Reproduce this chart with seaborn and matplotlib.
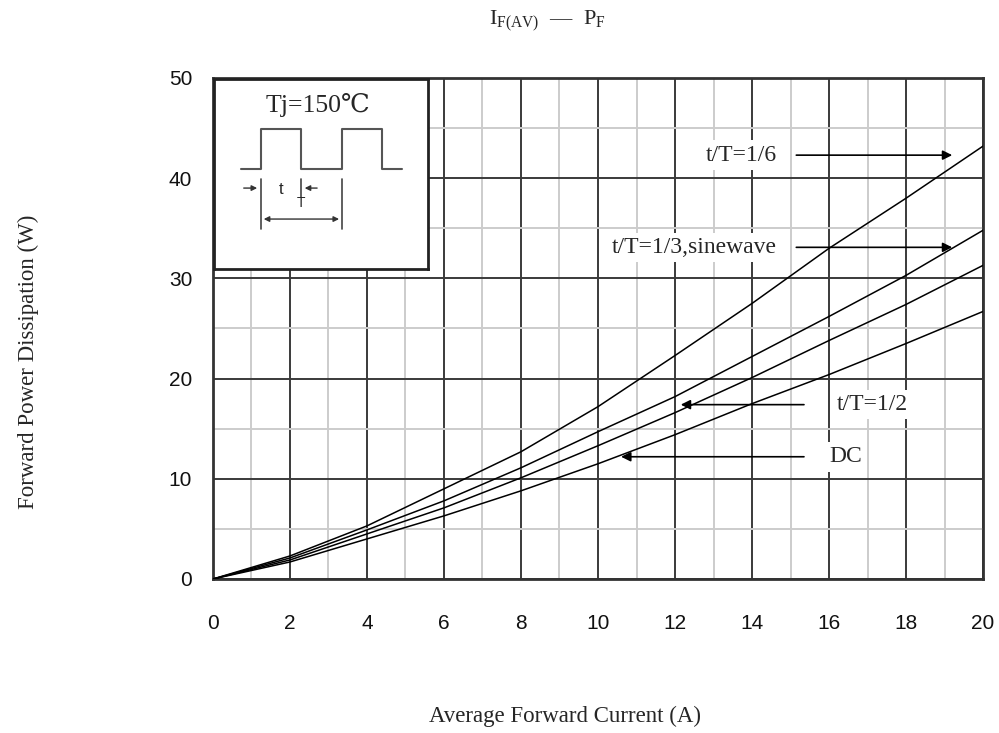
"""
Curva IF(AV) - PF (disipación de potencia directa)
"""

import matplotlib
matplotlib.use("Agg")
import matplotlib.pyplot as plt
import pandas as pd
import seaborn as sns

# Datos
corriente = [0, 2, 4, 6, 8, 10, 12, 14, 16, 18, 20]
p_sexto = [0, 2.3, 5.3, 9.0, 12.7, 17.2, 22.3, 27.5, 33.0, 38.0, 43.2]
p_tercio = [0, 2.1, 4.9, 7.8, 11.1, 14.7, 18.2, 22.2, 26.2, 30.3, 34.8]
p_medio = [0, 1.9, 4.5, 7.1, 10.1, 13.3, 16.6, 20.1, 23.8, 27.4, 31.3]
p_dc = [0, 1.7, 4.0, 6.3, 8.8, 11.5, 14.4, 17.5, 20.4, 23.5, 26.7]

series = ["t/T=1/6", "t/T=1/3,sinewave", "t/T=1/2", "DC"]

# etiquetas con flecha: (texto, x_texto, y, x_inicio, x_fin)
etiquetas = [
    ("t/T=1/6", 14.65, 42.3, 15.15, 19.2),
    ("t/T=1/3,sinewave", 14.65, 33.1, 15.15, 19.2),
    ("t/T=1/2", 16.2, 17.4, 15.35, 12.15),
    ("DC", 16.0, 12.2, 15.35, 10.6),
]

SERIF = ["Liberation Serif", "DejaVu Serif", "DejaVu Sans"]

sns.set_style("white")
plt.rcParams["mathtext.fontset"] = "custom"
plt.rcParams["mathtext.rm"] = "Liberation Serif"

df = pd.DataFrame({
    "I": corriente * 4,
    "P": p_sexto + p_tercio + p_medio + p_dc,
    "serie": [s for s in series for _ in corriente],
})

fig = plt.figure(figsize=(9.99, 7.33), dpi=100)
ax = fig.add_axes([0.2132, 0.2101, 0.7708, 0.6835])

sns.lineplot(data=df, x="I", y="P", hue="serie", palette=["black"] * 4,
             legend=False, ax=ax, linewidth=1.1, zorder=3)

ax.set_xlim(0, 20)
ax.set_ylim(0, 50)
ax.set_xticks(range(0, 21, 2))
ax.set_yticks(range(0, 51, 10))
ax.set_xticks(range(1, 20, 2), minor=True)
ax.set_yticks(range(5, 50, 10), minor=True)
ax.grid(which="major", color="#3a3a3a", linewidth=1.4, zorder=1)
ax.grid(which="minor", color="#cccccc", linewidth=1.4, zorder=0)
ax.set_axisbelow(True)
for sp in ax.spines.values():
    sp.set_color("#333333")
    sp.set_linewidth(2)
ax.tick_params(which="both", length=0)
ax.tick_params(axis="x", pad=25, labelsize=15)
ax.tick_params(axis="y", pad=15, labelsize=15)
for lab in ax.get_xticklabels() + ax.get_yticklabels():
    lab.set_family("Liberation Sans")
    lab.set_color("#111111")

ax.set_xlabel("")
ax.set_ylabel("")
fig.text(0.566, 0.022, "Average Forward Current (A)", ha="center", va="center",
         fontsize=16.5, family=SERIF)
fig.text(0.028, 0.507, "Forward Power Dissipation (W)", ha="center", va="center",
         rotation=90, fontsize=16.5, family=SERIF)
fig.text(0.548, 0.972, r"$\mathrm{I_{F(AV)}}$  —  $\mathrm{P_F}$", ha="center",
         va="center", fontsize=16, family=SERIF)

# etiquetas de las curvas
for texto, xt, yt, x0, x1 in etiquetas:
    ax.text(xt, yt, texto, ha="right" if x1 > x0 else "left", va="center",
            fontsize=17, family=SERIF, zorder=4,
            bbox=dict(facecolor="white", edgecolor="none", pad=3))
    ax.annotate("", xy=(x1, yt), xytext=(x0, yt), zorder=4,
                arrowprops=dict(arrowstyle="-|>", color="black", lw=1.2,
                                mutation_scale=14, shrinkA=0, shrinkB=0))

# recuadro con la forma de onda
ins = fig.add_axes([0.2142, 0.6330, 0.2140, 0.2590])
ins.set_xlim(0, 214)
ins.set_ylim(190, 0)
ins.set_xticks([])
ins.set_yticks([])
for sp in ins.spines.values():
    sp.set_linewidth(2)
    sp.set_color("#222222")
onda_x = [27, 47, 47, 87, 87, 128, 128, 168, 168, 188]
onda_y = [90, 90, 50, 50, 90, 90, 50, 50, 90, 90]
ins.plot(onda_x, onda_y, color="#555555", lw=1.5)
ins.text(104, 26, "Tj=150℃", ha="center", va="center", fontsize=18.5,
         family=SERIF)
ins.plot([47, 47], [100, 150], color="#444444", lw=1.2)
ins.plot([128, 128], [100, 150], color="#444444", lw=1.2)
ins.annotate("", xy=(46, 109), xytext=(27, 109),
             arrowprops=dict(arrowstyle="-|>", color="#333333", lw=1, mutation_scale=8))
ins.annotate("", xy=(88, 109), xytext=(106, 109),
             arrowprops=dict(arrowstyle="-|>", color="#333333", lw=1, mutation_scale=8))
ins.plot([87, 87], [100, 118], color="#444444", lw=1.2)
ins.annotate("", xy=(47, 140), xytext=(128, 140),
             arrowprops=dict(arrowstyle="<|-|>", color="#333333", lw=1, mutation_scale=8))
ins.text(67, 110, "t", ha="center", va="center", fontsize=12, family="Liberation Sans")
ins.text(87, 124, "T", ha="center", va="center", fontsize=10, family="Liberation Sans")

fig.savefig("out.png", dpi=100)
